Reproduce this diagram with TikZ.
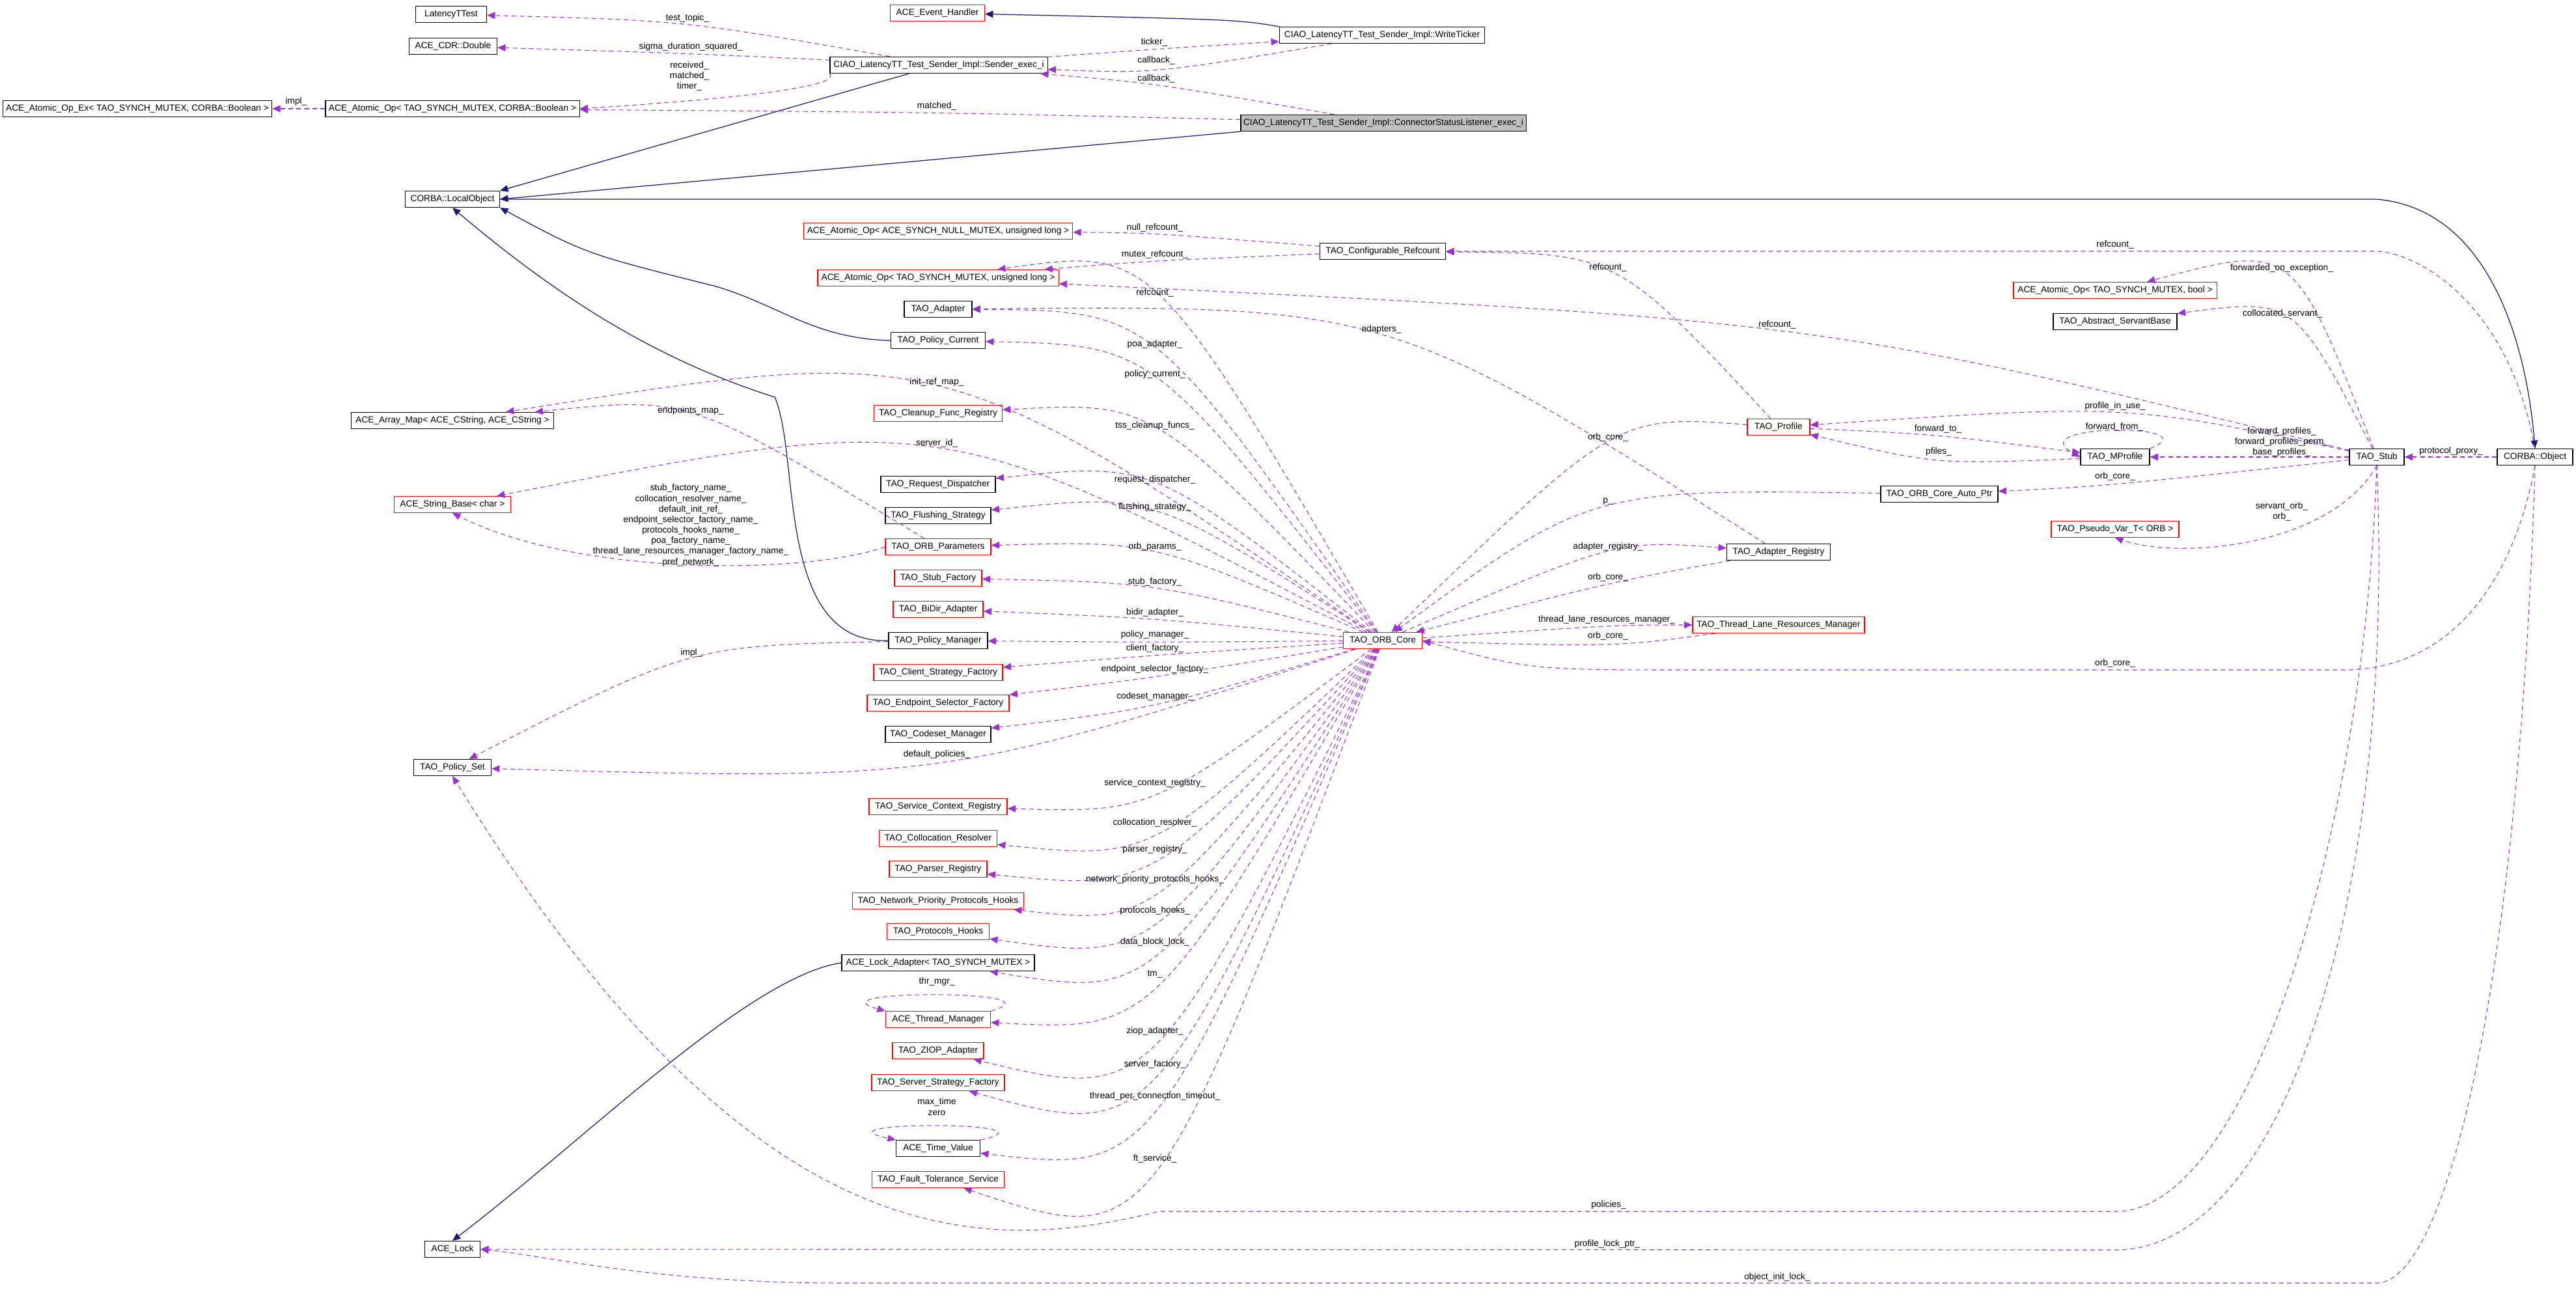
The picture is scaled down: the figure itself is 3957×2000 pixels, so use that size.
\documentclass[tikz,border=0pt]{standalone}
\usepackage{fontspec}
\setmainfont{Liberation Sans}
\usetikzlibrary{arrows.meta,calc}

\definecolor{usecol}{HTML}{9A32CD}
\definecolor{inhcol}{HTML}{191970}

% member edge: source, target, label x, label y, label
\newcommand{\memb}[5]{%
  \draw[use] (#1) .. controls ($(#1)!0.5!(#2)!1.3333!(#3,#4+11)$) .. (#2);
  \node[lbl] at (#3,#4) {#5};}

\begin{document}
\begin{tikzpicture}[x=0.01cm, y=-0.01cm,
  box/.style={draw=black, line width=0.35pt, minimum height=0.25cm, inner sep=0.5pt,
    font=\fontsize{3.9}{4.6}\selectfont},
  rbox/.style={box, draw=red},
  lbl/.style={font=\fontsize{3.9}{4.6}\selectfont, align=center, inner sep=0pt},
  use/.style={draw=usecol, line width=0.3pt, dash pattern=on 2pt off 1.5pt,
    -{Triangle[length=3.5pt,width=3pt,fill=usecol]}},
  inh/.style={draw=inhcol, line width=0.35pt, -{Triangle[length=3.5pt,width=3pt,fill=inhcol]}}]
\useasboundingbox (0,0) rectangle (3957,2000);

\node[box, minimum width=1.09cm] (lat) at (693,22) {LatencyTTest};
\node[box, minimum width=1.35cm] (cdr) at (696,71) {ACE\_CDR::Double};
\node[rbox, minimum width=1.45cm] (evh) at (1440,20) {ACE\_Event\_Handler};
\node[box, minimum width=3.15cm] (tick) at (2123,54) {CIAO\_LatencyTT\_Test\_Sender\_Impl::WriteTicker};
\node[box, minimum width=3.34cm] (send) at (1442,100) {CIAO\_LatencyTT\_Test\_Sender\_Impl::Sender\_exec\_i};
\node[box, minimum width=4.13cm] (aoex) at (211,167) {ACE\_Atomic\_Op\_Ex< TAO\_SYNCH\_MUTEX, CORBA::Boolean >};
\node[box, minimum width=3.9cm] (aob) at (695,167) {ACE\_Atomic\_Op< TAO\_SYNCH\_MUTEX, CORBA::Boolean >};
\node[box, fill=black!25, minimum width=4.38cm] (csl) at (2125,189) {CIAO\_LatencyTT\_Test\_Sender\_Impl::ConnectorStatusListener\_exec\_i};
\node[box, minimum width=1.45cm] (lobj) at (695,306) {CORBA::LocalObject};

\node[rbox, minimum width=4.13cm] (aonull) at (1441,355) {ACE\_Atomic\_Op< ACE\_SYNCH\_NULL\_MUTEX, unsigned long >};
\node[box, minimum width=1.93cm] (cref) at (2124,386) {TAO\_Configurable\_Refcount};
\node[rbox, minimum width=3.7cm] (aoul) at (1441,427) {ACE\_Atomic\_Op< TAO\_SYNCH\_MUTEX, unsigned long >};
\node[box, minimum width=1.04cm] (adapter) at (1441,475) {TAO\_Adapter};
\node[box, minimum width=1.45cm] (pcur) at (1441,523) {TAO\_Policy\_Current};
\node[box, minimum width=3.11cm] (amap) at (695,646) {ACE\_Array\_Map< ACE\_CString, ACE\_CString >};
\node[rbox, minimum width=1.97cm] (cleanup) at (1441,635) {TAO\_Cleanup\_Func\_Registry};
\node[rbox, minimum width=1.79cm] (sbase) at (695,775) {ACE\_String\_Base< char >};
\node[box, minimum width=1.76cm] (reqd) at (1441,744) {TAO\_Request\_Dispatcher};
\node[box, minimum width=1.62cm] (flush) at (1441,792) {TAO\_Flushing\_Strategy};
\node[rbox, minimum width=1.62cm] (params) at (1441,840) {TAO\_ORB\_Parameters};
\node[rbox, minimum width=1.34cm] (stubf) at (1441,888) {TAO\_Stub\_Factory};
\node[rbox, minimum width=1.38cm] (bidir) at (1441,936) {TAO\_BiDir\_Adapter};
\node[box, minimum width=1.52cm] (pman) at (1441,984) {TAO\_Policy\_Manager};
\node[rbox, minimum width=1.98cm] (csf) at (1441,1033) {TAO\_Client\_Strategy\_Factory};
\node[rbox, minimum width=2.18cm] (esf) at (1441,1080) {TAO\_Endpoint\_Selector\_Factory};
\node[box, minimum width=1.62cm] (codeset) at (1441,1128) {TAO\_Codeset\_Manager};
\node[box, minimum width=1.19cm] (pset) at (695,1179) {TAO\_Policy\_Set};
\node[rbox, minimum width=2.12cm] (scr) at (1441,1239) {TAO\_Service\_Context\_Registry};
\node[rbox, minimum width=1.81cm] (colres) at (1441,1288) {TAO\_Collocation\_Resolver};
\node[rbox, minimum width=1.5cm] (parser) at (1441,1335) {TAO\_Parser\_Registry};
\node[rbox, minimum width=2.63cm] (nph) at (1441,1384) {TAO\_Network\_Priority\_Protocols\_Hooks};
\node[rbox, minimum width=1.57cm] (phooks) at (1441,1431) {TAO\_Protocols\_Hooks};
\node[box, minimum width=2.96cm] (lockad) at (1441,1479) {ACE\_Lock\_Adapter< TAO\_SYNCH\_MUTEX >};
\node[rbox, minimum width=1.61cm] (thrm) at (1441,1566) {ACE\_Thread\_Manager};
\node[rbox, minimum width=1.4cm] (ziop) at (1441,1614) {TAO\_ZIOP\_Adapter};
\node[rbox, minimum width=2.04cm] (ssf) at (1441,1663) {TAO\_Server\_Strategy\_Factory};
\node[box, minimum width=1.29cm] (tval) at (1441,1764) {ACE\_Time\_Value};
\node[rbox, minimum width=2.03cm] (fts) at (1441,1812) {TAO\_Fault\_Tolerance\_Service};
\node[box, minimum width=0.85cm] (lock) at (695,1919) {ACE\_Lock};

\node[rbox, minimum width=1.21cm] (core) at (2124,984) {TAO\_ORB\_Core};
\node[rbox, minimum width=0.96cm] (prof) at (2732,656) {TAO\_Profile};
\node[box, minimum width=1.59cm] (areg) at (2732,848) {TAO\_Adapter\_Registry};
\node[rbox, minimum width=2.64cm] (tlrm) at (2732,960) {TAO\_Thread\_Lane\_Resources\_Manager};
\node[rbox, minimum width=3.12cm] (aobool) at (3249,446) {ACE\_Atomic\_Op< TAO\_SYNCH\_MUTEX, bool >};
\node[box, minimum width=1.9cm] (asb) at (3249,494) {TAO\_Abstract\_ServantBase};
\node[box, minimum width=1.06cm] (mprof) at (3249,702) {TAO\_MProfile};
\node[box, minimum width=1.8cm] (autop) at (2979,759) {TAO\_ORB\_Core\_Auto\_Ptr};
\node[rbox, minimum width=1.96cm] (pvar) at (3249,813) {TAO\_Pseudo\_Var\_T< ORB >};
\node[box, minimum width=0.84cm] (stub) at (3651,702) {TAO\_Stub};
\node[box, minimum width=1.16cm] (obj) at (3894,702) {CORBA::Object};

% inheritance
\draw[inh] (tick.north west) .. controls (1900,30) .. (evh);
\draw[inh] (send) -- (lobj.north east);
\draw[inh] (csl.south west) -- (lobj.east);
\draw[inh] (lobj.east) -- (3650,306) .. controls (3820,320) and (3880,520) .. (obj.north);
\draw[inh] (pcur.west) .. controls (1250,520) and (1200,470) .. (1100,440) .. controls (900,390) .. (lobj.south east);
\draw[inh] (pman.west) .. controls (1190,990) and (1230,700) .. (1190,610) .. controls (1000,550) and (850,450) .. (lobj.south);
\draw[inh] (lockad.west) .. controls (1150,1500) and (900,1750) .. (lock.north);

% members of the sender side
\memb{send}{lat}{1056}{28}{test\_topic\_}
\memb{send}{cdr}{1061}{72}{sigma\_duration\_squared\_}
\draw[use] (send.south west) .. controls (1300,140) and (1000,160) .. (aob.east);
\node[lbl] at (1059,117) {received\_\\matched\_\\timer\_};
\memb{send}{tick}{1773}{65}{ticker\_}
\memb{tick}{send}{1776}{93}{callback\_}
\memb{csl}{send}{1776}{121}{callback\_}
\memb{csl}{aob}{1439}{163}{matched\_}
\memb{aob}{aoex}{455}{156}{impl\_}

% refcounts
\memb{cref}{aonull}{1774}{350}{null\_refcount\_}
\memb{cref}{aoul}{1774}{391}{mutex\_refcount\_}
\memb{core}{aoul}{1774}{450}{refcount\_}
\memb{stub}{aoul}{2730}{499}{refcount\_}
\draw[use] (obj.north) .. controls (3850,450) and (3700,386) .. (3650,386) -- (cref.east);
\node[lbl] at (3249,376) {refcount\_};
\memb{prof}{cref}{2470}{411}{refcount\_}

% members of the ORB core
\memb{core}{adapter}{1774}{529}{poa\_adapter\_}
\memb{areg}{adapter}{2122}{506}{adapters\_}
\memb{core}{pcur}{1774}{575}{policy\_current\_}
\memb{core}{amap}{1439}{587}{init\_ref\_map\_}
\memb{params}{amap}{1061}{631}{endpoints\_map\_}
\memb{core}{cleanup}{1774}{654}{tss\_cleanup\_funcs\_}
\memb{core}{sbase}{1439}{681}{server\_id\_}
\draw[use] (params.west) .. controls (1250,880) and (900,890) .. (sbase.south);
\node[lbl] at (1061,807) {stub\_factory\_name\_\\collocation\_resolver\_name\_\\default\_init\_ref\_\\endpoint\_selector\_factory\_name\_\\protocols\_hooks\_name\_\\poa\_factory\_name\_\\thread\_lane\_resources\_manager\_factory\_name\_\\pref\_network\_};
\memb{core}{reqd}{1774}{737}{request\_dispatcher\_}
\memb{core}{flush}{1774}{779}{flushing\_strategy\_}
\memb{core}{params}{1774}{840}{orb\_params\_}
\memb{core}{stubf}{1774}{894}{stub\_factory\_}
\memb{core}{bidir}{1774}{941}{bidir\_adapter\_}
\memb{core}{pman}{1774}{975}{policy\_manager\_}
\memb{core}{csf}{1774}{996}{client\_factory\_}
\memb{core}{esf}{1774}{1028}{endpoint\_selector\_factory\_}
\memb{core}{codeset}{1774}{1070}{codeset\_manager\_}
\memb{core}{pset}{1439}{1159}{default\_policies\_}
\memb{pman}{pset}{1062}{1003}{impl\_}
\memb{core}{scr}{1774}{1203}{service\_context\_registry\_}
\memb{core}{colres}{1774}{1264}{collocation\_resolver\_}
\memb{core}{parser}{1774}{1305}{parser\_registry\_}
\memb{core}{nph}{1774}{1351}{network\_priority\_protocols\_hooks\_}
\memb{core}{phooks}{1774}{1399}{protocols\_hooks\_}
\memb{core}{lockad}{1774}{1447}{data\_block\_lock\_}
\memb{core}{thrm}{1774}{1496}{tm\_}
\memb{core}{ziop}{1774}{1584}{ziop\_adapter\_}
\memb{core}{ssf}{1774}{1635}{server\_factory\_}
\memb{core}{tval}{1774}{1684}{thread\_per\_connection\_timeout\_}
\memb{core}{fts}{1774}{1780}{ft\_service\_}
\draw[use] (thrm.north east) .. controls (1640,1520) and (1240,1520) .. (thrm.north west);
\node[lbl] at (1439,1508) {thr\_mgr\_};
\draw[use] (tval.north east) .. controls (1640,1722) and (1240,1722) .. (tval.north west);
\node[lbl] at (1439,1700) {max\_time\\zero};

% back to the core
\memb{prof}{core}{2470}{672}{orb\_core\_}
\memb{autop}{core}{2470}{770}{p\_}
\memb{core}{areg}{2470}{840}{adapter\_registry\_}
\memb{areg}{core}{2470}{887}{orb\_core\_}
\memb{core}{tlrm}{2468}{952}{thread\_lane\_resources\_manager\_}
\memb{tlrm}{core}{2470}{977}{orb\_core\_}
\draw[use] (obj.south) .. controls (3860,900) and (3760,1029) .. (3600,1029) -- (2600,1029) .. controls (2350,1029) .. (core.east);
\node[lbl] at (3249,1019) {orb\_core\_};

% members of the stub
\memb{stub}{aobool}{3505}{412}{forwarded\_on\_exception\_}
\memb{stub}{asb}{3506}{482}{collocated\_servant\_}
\memb{stub}{prof}{3249}{624}{profile\_in\_use\_}
\memb{prof}{mprof}{2977}{659}{forward\_to\_}
\memb{mprof}{prof}{2978}{694}{pfiles\_}
\draw[use] (mprof.north east) .. controls (3400,650) and (3100,650) .. (mprof.west);
\node[lbl] at (3248,656) {forward\_from\_};
\draw[use] (stub) -- (mprof);
\node[lbl] at (3505,679) {forward\_profiles\_\\forward\_profiles\_perm\_\\base\_profiles\_};
\draw[use] (obj) -- (stub);
\node[lbl] at (3765,693) {protocol\_proxy\_};
\memb{stub}{autop}{3249}{732}{orb\_core\_}
\draw[use] (stub.south) .. controls (3580,840) and (3350,860) .. (pvar.south);
\node[lbl] at (3505,786) {servant\_orb\_\\orb\_};
\draw[use] (stub.south) .. controls (3630,1300) and (3450,1861) .. (3250,1861) -- (1780,1861) .. controls (1500,1930) and (1150,1930) .. (pset.south);
\node[lbl] at (2471,1851) {policies\_};
\draw[use] (stub.south) .. controls (3680,1400) and (3500,1920) .. (3250,1920) -- (lock.east);
\node[lbl] at (2469,1911) {profile\_lock\_ptr\_};
\draw[use] (obj.south) .. controls (3870,1500) and (3760,1971) .. (3650,1971) -- (1300,1971) .. controls (1000,1971) and (850,1930) .. (lock.east);
\node[lbl] at (2730,1962) {object\_init\_lock\_};

\end{tikzpicture}
\end{document}
